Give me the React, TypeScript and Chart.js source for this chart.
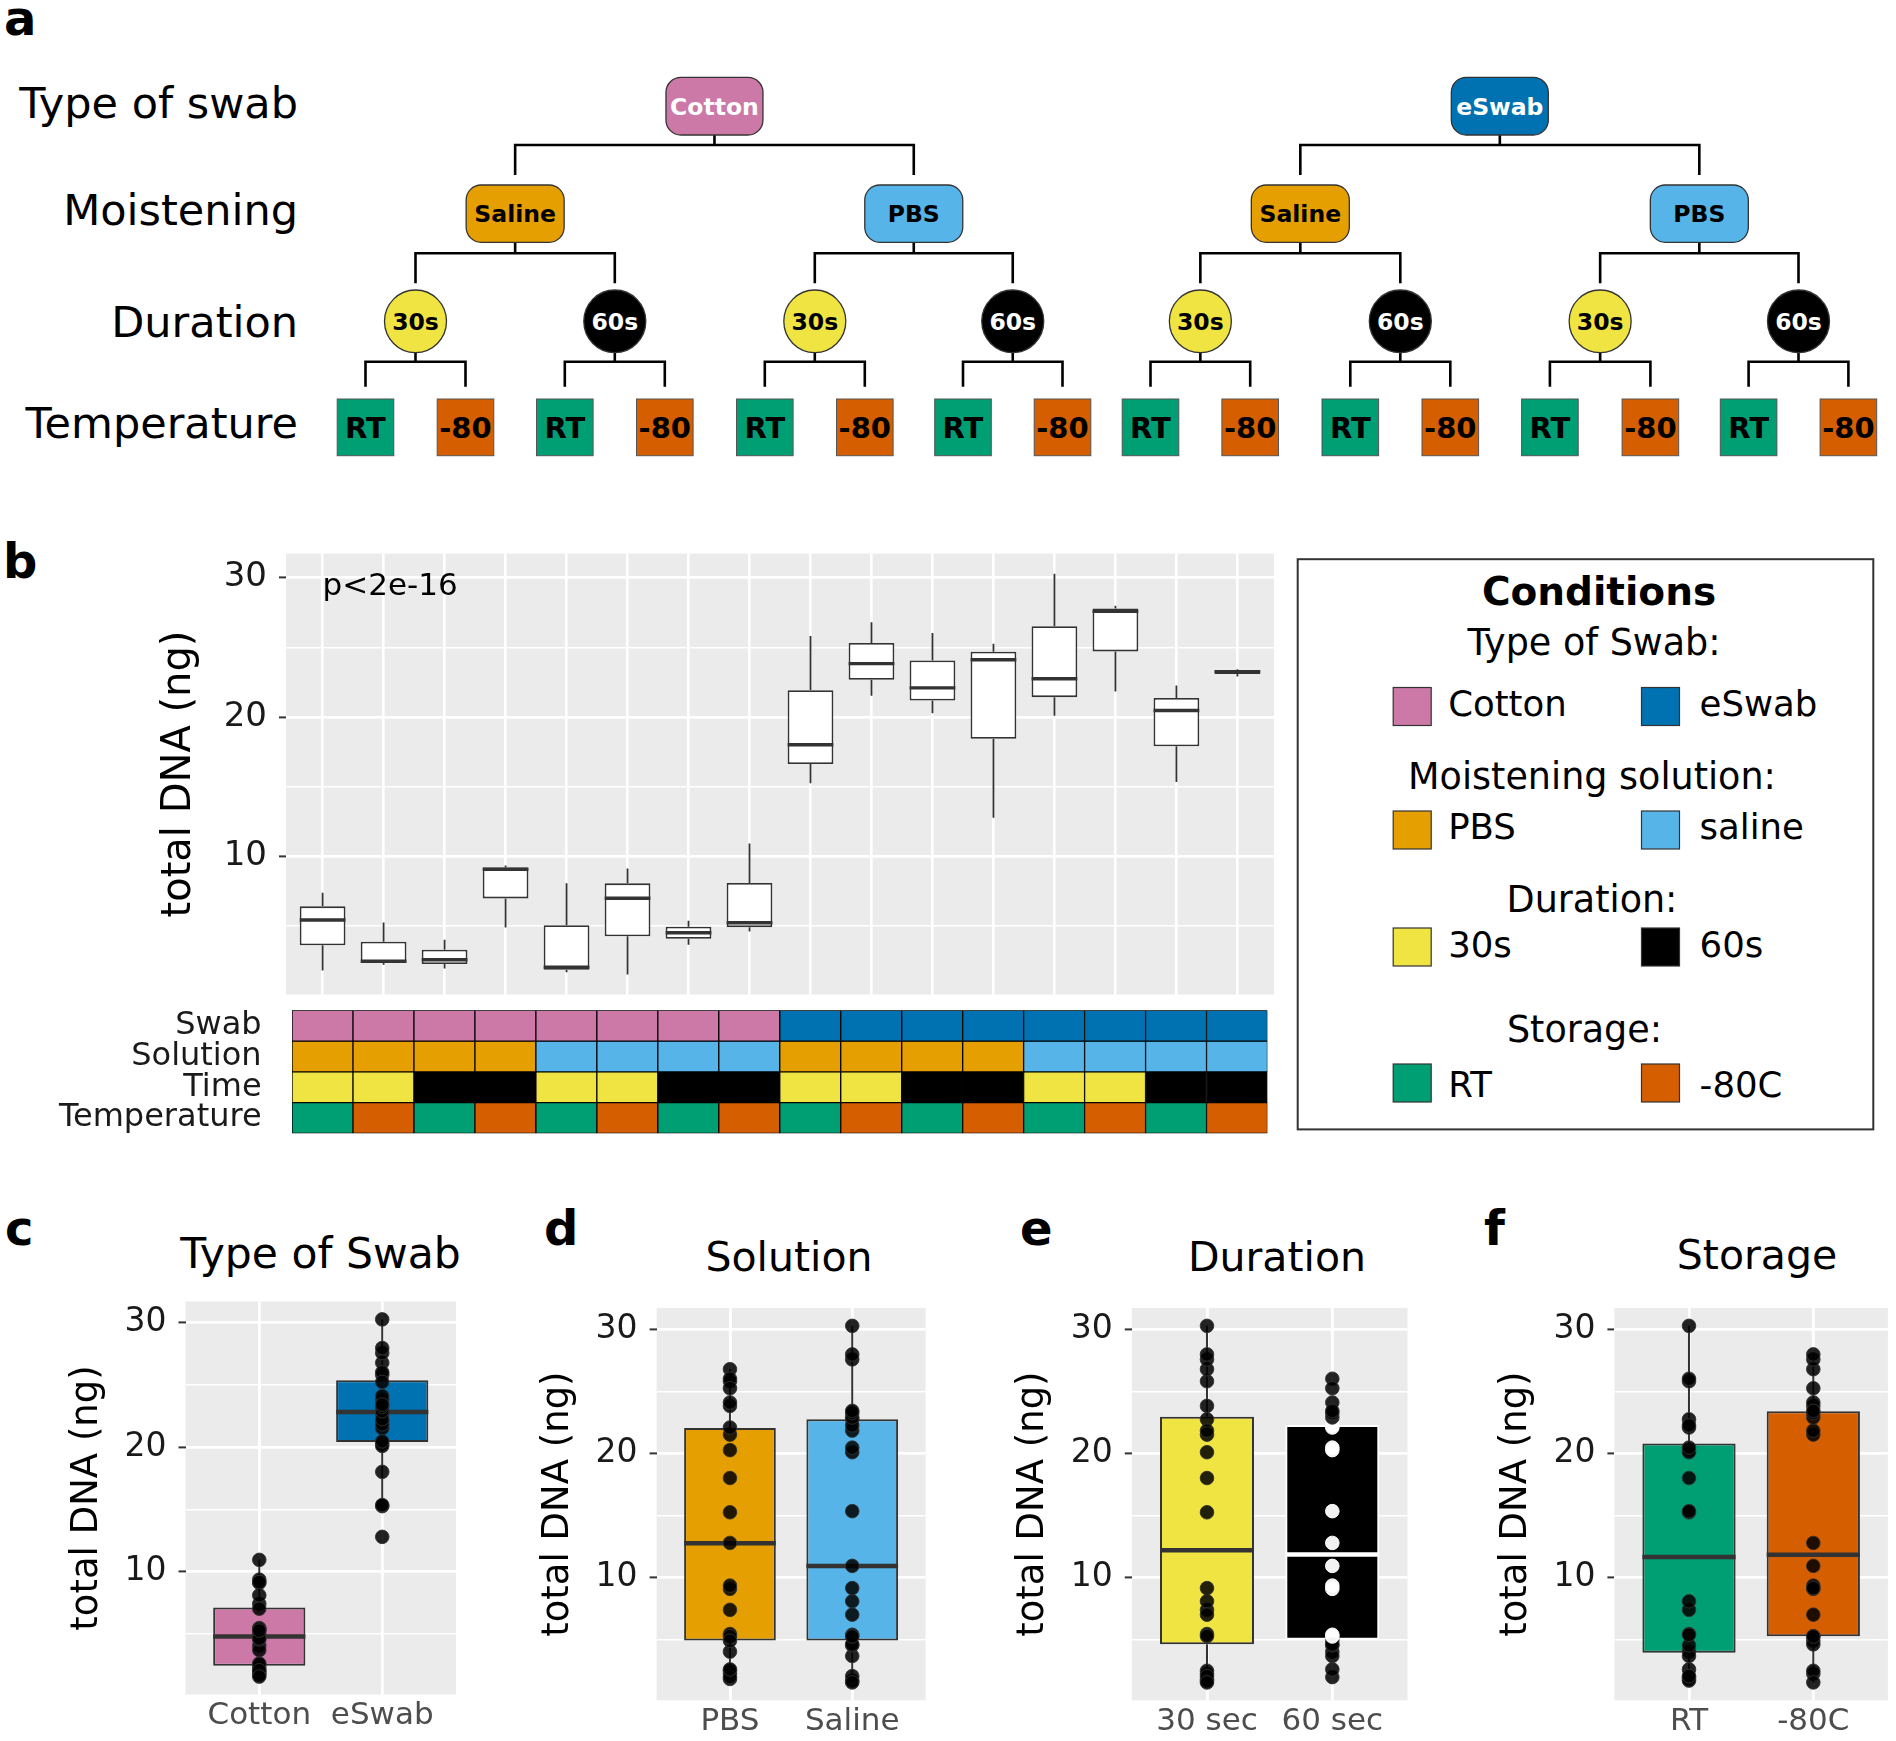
import React, { useEffect, useRef } from 'react';
import { Chart, registerables } from 'chart.js';

Chart.register(...registerables);

const FONT = "'DejaVu Sans', Verdana, sans-serif";
Chart.defaults.font.family = FONT;

// ------------------------------------------------------------------ data
const conditionIds = [1, 2, 3, 4, 5, 6, 7, 8, 9, 10, 11, 12, 13, 14, 15, 16];
const swabType = ['Cotton', 'Cotton', 'Cotton', 'Cotton', 'Cotton', 'Cotton', 'Cotton', 'Cotton', 'eSwab', 'eSwab', 'eSwab', 'eSwab', 'eSwab', 'eSwab', 'eSwab', 'eSwab'];
const solutionType = ['PBS', 'PBS', 'PBS', 'PBS', 'saline', 'saline', 'saline', 'saline', 'PBS', 'PBS', 'PBS', 'PBS', 'saline', 'saline', 'saline', 'saline'];
const durationType = ['30s', '30s', '60s', '60s', '30s', '30s', '60s', '60s', '30s', '30s', '60s', '60s', '30s', '30s', '60s', '60s'];
const storageType = ['RT', '-80C', 'RT', '-80C', 'RT', '-80C', 'RT', '-80C', 'RT', '-80C', 'RT', '-80C', 'RT', '-80C', 'RT', '-80C'];

// three replicate measurements per condition (total DNA, ng)
const replicateLow = [1.83, 2.25, 1.98, 4.91, 1.70, 1.55, 3.68, 4.62, 15.26, 21.52, 20.27, 12.79, 20.10, 21.84, 15.35, 22.90];
const replicateMid = [5.45, 2.49, 2.60, 9.09, 2.06, 7.01, 4.54, 5.25, 18.02, 23.83, 22.09, 24.11, 22.75, 27.58, 20.47, 23.26];
const replicateHigh = [7.40, 5.28, 4.03, 9.35, 8.09, 9.15, 5.39, 10.94, 25.82, 26.79, 26.02, 25.25, 30.28, 27.98, 22.26, 23.43];
// panel b box hinges
const conditionQ1 = [3.64, 2.37, 2.29, 7.00, 1.88, 4.28, 4.11, 4.94, 16.64, 22.68, 21.18, 18.45, 21.43, 24.71, 17.91, 23.08];
const conditionQ3 = [6.43, 3.89, 3.32, 9.22, 5.08, 8.08, 4.97, 8.10, 21.92, 25.31, 24.06, 24.68, 26.52, 27.78, 21.37, 23.35];

// panel c-f box statistics
const swabLevels = ['Cotton', 'eSwab'];
const swabTickLabels = ['Cotton', 'eSwab'];
const swabLower = [1.55, 15.26];
const swabQ1 = [2.43, 20.42];
const swabMedian = [4.77, 22.83];
const swabQ3 = [7.11, 25.39];
const swabUpper = [10.94, 30.28];

const solutionLevels = ['PBS', 'saline'];
const solutionTickLabels = ['PBS', 'Saline'];
const solutionLower = [1.83, 1.55];
const solutionQ1 = [4.92, 4.92];
const solutionMedian = [12.76, 10.93];
const solutionQ3 = [22.05, 22.76];
const solutionUpper = [26.79, 30.28];

const durationLevels = ['30s', '60s'];
const durationTickLabels = ['30 sec', '60 sec'];
const durationLower = [1.55, 1.98];
const durationQ1 = [4.62, 4.98];
const durationMedian = [12.2, 11.86];
const durationQ3 = [22.95, 22.3];
const durationUpper = [30.28, 26.02];

const storageLevels = ['RT', '-80C'];
const storageTickLabels = ['RT', '-80C'];
const storageLower = [1.70, 1.55];
const storageQ1 = [3.94, 5.27];
const storageMedian = [11.66, 11.84];
const storageQ3 = [20.8, 23.4];
const storageUpper = [30.28, 27.98];

const yAxisMin = 0.11;
const yAxisMax = 31.72;
const yGridValues = [5, 10, 15, 20, 25, 30];
const yLabelValues = [10, 20, 30];

const heatRowLabels = ['Swab', 'Solution', 'Time', 'Temperature'];

// colours
const swabColor: Record<string, string> = { Cotton: '#CC79A7', eSwab: '#0072B2' };
const solutionColor: Record<string, string> = { PBS: '#E69F00', saline: '#56B4E9' };
const durationColor: Record<string, string> = { '30s': '#F0E442', '60s': '#000000' };
const storageColor: Record<string, string> = { RT: '#009E73', '-80C': '#D55E00' };

// panel a tree
const treeRowLabels = ['Type of swab', 'Moistening', 'Duration', 'Temperature'];
const treeSwab = ['Cotton', 'eSwab'];
const treeMoist = ['Saline', 'PBS', 'Saline', 'PBS'];
const treeDuration = ['30s', '60s', '30s', '60s', '30s', '60s', '30s', '60s'];
const treeTemp = ['RT', '-80', 'RT', '-80', 'RT', '-80', 'RT', '-80', 'RT', '-80', 'RT', '-80', 'RT', '-80', 'RT', '-80'];

// ------------------------------------------------------------------ helpers
type Geo = { L: number; T: number; R: number; B: number; axisW: number; padTop: number; padRight: number; padBottom: number; xAxisH: number };
function frame(g: Geo) {
  const left = Math.round(g.L - g.axisW);
  const top = Math.round(g.T - g.padTop);
  const width = Math.ceil(g.R - left + g.padRight);
  const height = Math.ceil(g.B - top + g.xAxisH + g.padBottom);
  return {
    left, top, width, height,
    yW: g.L - left,
    pTop: g.T - top,
    pRight: width - (g.R - left),
    pBottom: height - (g.B - top) - g.xAxisH,
    xH: g.xAxisH,
  };
}

const panelBackground = {
  id: 'panelBackground',
  beforeDraw(chart: any) {
    const { ctx, chartArea: a } = chart;
    ctx.save();
    ctx.fillStyle = '#EBEBEB';
    ctx.fillRect(a.left, a.top, a.right - a.left, a.bottom - a.top);
    ctx.restore();
  },
};

type BoxSpec = {
  x: number[]; lower: number[]; q1: number[]; median: number[]; q3: number[]; upper: number[];
  edge: string[]; medianColor: string[]; width: number; whiskerW: number; medianW: number;
  note?: { text: string; x: number; y: number; size: number };
};

function boxDecor(s: BoxSpec) {
  return {
    id: 'boxDecor',
    beforeDatasetsDraw(chart: any) {
      const xs = chart.scales.x, ys = chart.scales.y, ctx = chart.ctx;
      ctx.save();
      ctx.lineWidth = s.whiskerW;
      s.x.forEach((xv, i) => {
        const px = xs.getPixelForValue(xv);
        ctx.strokeStyle = s.edge[i];
        ctx.beginPath();
        ctx.moveTo(px, ys.getPixelForValue(s.lower[i]));
        ctx.lineTo(px, ys.getPixelForValue(s.q1[i]));
        ctx.moveTo(px, ys.getPixelForValue(s.q3[i]));
        ctx.lineTo(px, ys.getPixelForValue(s.upper[i]));
        ctx.stroke();
      });
      ctx.restore();
    },
    afterDatasetDraw(chart: any, args: any) {
      if (args.index !== 0) return;
      const xs = chart.scales.x, ys = chart.scales.y, ctx = chart.ctx;
      ctx.save();
      ctx.lineWidth = s.medianW;
      s.x.forEach((xv, i) => {
        const x0 = xs.getPixelForValue(xv - s.width / 2);
        const x1 = xs.getPixelForValue(xv + s.width / 2);
        const py = ys.getPixelForValue(s.median[i]);
        ctx.strokeStyle = s.medianColor[i];
        ctx.beginPath();
        ctx.moveTo(x0, py);
        ctx.lineTo(x1, py);
        ctx.stroke();
      });
      ctx.restore();
    },
    afterDatasetsDraw(chart: any) {
      if (!s.note) return;
      const xs = chart.scales.x, ys = chart.scales.y, ctx = chart.ctx;
      ctx.save();
      ctx.fillStyle = '#000';
      ctx.font = `${s.note.size}px ${FONT}`;
      ctx.textAlign = 'left';
      ctx.textBaseline = 'middle';
      ctx.fillText(s.note.text, xs.getPixelForValue(s.note.x), ys.getPixelForValue(s.note.y));
      ctx.restore();
    },
  };
}

function yScale(yW: number, tickSize: number, titleSize: number, titlePad: number) {
  return {
    type: 'linear',
    min: yAxisMin,
    max: yAxisMax,
    bounds: 'data',
    afterBuildTicks: (sc: any) => { sc.ticks = yGridValues.map((v) => ({ value: v })); },
    afterFit: (sc: any) => { sc.width = yW; },
    ticks: {
      autoSkip: false,
      padding: 12,
      color: '#1a1a1a',
      font: { size: tickSize, family: FONT },
      callback: (v: any) => (yLabelValues.includes(Number(v)) ? String(v) : ''),
    },
    grid: {
      color: '#FFFFFF',
      lineWidth: (c: any) => (c.tick && yLabelValues.includes(c.tick.value) ? 2.8 : 1.6),
      tickColor: (c: any) => (c.tick && yLabelValues.includes(c.tick.value) ? '#333333' : 'rgba(0,0,0,0)'),
      tickLength: 7,
      tickWidth: 2,
    },
    border: { display: false },
    title: {
      display: true,
      text: 'total DNA (ng)',
      color: '#000',
      font: { size: titleSize, family: FONT },
      padding: { top: titlePad, bottom: 0 },
    },
  };
}

// ------------------------------------------------------------------ chart configs
const geoB: Geo = { L: 286, T: 553.6, R: 1274, B: 994.5, axisW: 140, padTop: 40, padRight: 10, padBottom: 40, xAxisH: 0 };
const frameB = frame(geoB);

function configB() {
  const f = frameB;
  const titleSize = 40;
  const titlePad = 180 - f.left - (titleSize * 1.2) / 2;
  return {
    type: 'bar',
    data: {
      datasets: [
        {
          type: 'bar',
          data: conditionIds.map((id, i) => ({ x: id, y: [conditionQ1[i], conditionQ3[i]] })),
          backgroundColor: '#FFFFFF',
          borderColor: '#333333',
          borderWidth: 1.8,
          borderSkipped: false,
          barPercentage: 0.75,
          categoryPercentage: 1,
        },
      ],
    },
    options: {
      animation: false,
      responsive: false,
      maintainAspectRatio: false,
      layout: { padding: { left: 0, top: f.pTop, right: f.pRight, bottom: f.pBottom } },
      plugins: { legend: { display: false }, tooltip: { enabled: false } },
      scales: {
        x: {
          type: 'linear',
          offset: false,
          min: 0.4,
          max: 16.6,
          bounds: 'data',
          afterBuildTicks: (sc: any) => { sc.ticks = conditionIds.map((v) => ({ value: v })); },
          afterFit: (sc: any) => { sc.height = f.xH; },
          ticks: { display: false },
          grid: { color: '#FFFFFF', lineWidth: 2.6, drawTicks: false, offset: false },
          border: { display: false },
        },
        y: yScale(f.yW, 34, titleSize, titlePad),
      },
    },
    plugins: [
      panelBackground,
      boxDecor({
        x: conditionIds,
        lower: replicateLow,
        q1: conditionQ1,
        median: replicateMid,
        q3: conditionQ3,
        upper: replicateHigh,
        edge: conditionIds.map(() => '#333333'),
        medianColor: conditionIds.map(() => '#333333'),
        width: 0.75,
        whiskerW: 1.8,
        medianW: 3.4,
        note: { text: 'p<2e-16', x: 1, y: 29.3, size: 31 },
      }),
    ],
  };
}

const geoHeat: Geo = { L: 292, T: 1010.3, R: 1267.5, B: 1133.4, axisW: 292, padTop: 50, padRight: 6, padBottom: 50, xAxisH: 0 };
const frameHeat = frame(geoHeat);

function configHeat() {
  const f = frameHeat;
  const rows = [
    { values: swabType, colors: swabColor },
    { values: solutionType, colors: solutionColor },
    { values: durationType, colors: durationColor },
    { values: storageType, colors: storageColor },
  ];
  return {
    type: 'bar',
    data: {
      datasets: rows.map((row, r) => ({
        type: 'bar',
        data: conditionIds.map((id) => ({ x: id, y: [r, r + 1] })),
        backgroundColor: row.values.map((v) => row.colors[v]),
        borderColor: '#000000',
        borderWidth: 1,
        borderSkipped: false,
        barPercentage: 1,
        categoryPercentage: 1,
        grouped: false,
      })),
    },
    options: {
      animation: false,
      responsive: false,
      maintainAspectRatio: false,
      layout: { padding: { left: 0, top: f.pTop, right: f.pRight, bottom: f.pBottom } },
      plugins: { legend: { display: false }, tooltip: { enabled: false } },
      scales: {
        x: {
          type: 'linear',
          display: false,
          offset: false,
          min: 0.5,
          max: 16.5,
          bounds: 'data',
          grid: { offset: false },
          afterBuildTicks: (sc: any) => { sc.ticks = conditionIds.map((v) => ({ value: v })); },
        },
        y: {
          type: 'linear',
          min: 0,
          max: 4,
          reverse: true,
          bounds: 'data',
          afterBuildTicks: (sc: any) => { sc.ticks = heatRowLabels.map((_, i) => ({ value: i + 0.5 })); },
          afterFit: (sc: any) => { sc.width = f.yW; },
          ticks: {
            autoSkip: false,
            padding: 292 - 261.6,
            color: '#1a1a1a',
            font: { size: 32, family: FONT },
            callback: (_v: any, i: number) => heatRowLabels[i],
          },
          grid: { display: false, drawTicks: false },
          border: { display: false },
        },
      },
    },
  };
}

type GroupSpec = {
  key: string;
  geo: Geo;
  factor: string[];
  levels: string[];
  tickLabels: string[];
  lower: number[]; q1: number[]; median: number[]; q3: number[]; upper: number[];
  fill: string[]; edge: string[]; medianColor: string[]; insideDot: (string | null)[];
};

const groupGeo = (L: number, R: number, T: number, B: number): Geo => ({ L, T, R, B, axisW: 130, padTop: 40, padRight: 8, padBottom: 0, xAxisH: 50 });

const groupSpecs: GroupSpec[] = [
  {
    key: 'c', geo: groupGeo(185.5, 456, 1301.5, 1694.5), factor: swabType, levels: swabLevels, tickLabels: swabTickLabels,
    lower: swabLower, q1: swabQ1, median: swabMedian, q3: swabQ3, upper: swabUpper,
    fill: swabLevels.map((l) => swabColor[l]), edge: ['#333333', '#333333'], medianColor: ['#333333', '#333333'], insideDot: [null, null],
  },
  {
    key: 'd', geo: groupGeo(656.6, 925.6, 1308, 1700.3), factor: solutionType, levels: solutionLevels, tickLabels: solutionTickLabels,
    lower: solutionLower, q1: solutionQ1, median: solutionMedian, q3: solutionQ3, upper: solutionUpper,
    fill: solutionLevels.map((l) => solutionColor[l]), edge: ['#333333', '#333333'], medianColor: ['#333333', '#333333'], insideDot: [null, null],
  },
  {
    key: 'e', geo: groupGeo(1131.8, 1407.5, 1308, 1700.3), factor: durationType, levels: durationLevels, tickLabels: durationTickLabels,
    lower: durationLower, q1: durationQ1, median: durationMedian, q3: durationQ3, upper: durationUpper,
    fill: durationLevels.map((l) => durationColor[l]), edge: ['#333333', '#FFFFFF'], medianColor: ['#333333', '#FFFFFF'], insideDot: [null, '#FFFFFF'],
  },
  {
    key: 'f', geo: groupGeo(1614.4, 1887.9, 1308, 1700.3), factor: storageType, levels: storageLevels, tickLabels: storageTickLabels,
    lower: storageLower, q1: storageQ1, median: storageMedian, q3: storageQ3, upper: storageUpper,
    fill: storageLevels.map((l) => storageColor[l]), edge: ['#333333', '#333333'], medianColor: ['#333333', '#333333'], insideDot: [null, null],
  },
];

function configGroup(spec: GroupSpec) {
  const f = frame(spec.geo);
  const titleSize = 37;
  const titlePad = spec.geo.L - 98.5 - f.left - (titleSize * 1.2) / 2;
  const points: { x: number; y: number }[] = [];
  const dotFill: string[] = [];
  const dotEdge: string[] = [];
  spec.levels.forEach((lvl, li) => {
    conditionIds.forEach((_, ci) => {
      if (spec.factor[ci] !== lvl) return;
      [replicateLow[ci], replicateMid[ci], replicateHigh[ci]].forEach((v) => {
        points.push({ x: li + 1, y: v });
        const inside = spec.insideDot[li] && v > spec.q1[li] && v < spec.q3[li];
        dotFill.push(inside ? 'rgba(255,255,255,0.95)' : 'rgba(0,0,0,0.86)');
        dotEdge.push(inside ? 'rgba(255,255,255,0.95)' : 'rgba(50,50,50,0.9)');
      });
    });
  });
  const xs = spec.levels.map((_, i) => i + 1);
  return {
    type: 'bar',
    data: {
      datasets: [
        {
          type: 'bar',
          order: 1,
          data: xs.map((x, i) => ({ x, y: [spec.q1[i], spec.q3[i]] })),
          backgroundColor: spec.fill,
          borderColor: spec.edge,
          borderWidth: 2,
          borderSkipped: false,
          barPercentage: 0.75,
          categoryPercentage: 1,
        },
        {
          type: 'line',
          order: 0,
          showLine: false,
          data: points,
          pointRadius: 6.8,
          pointBackgroundColor: dotFill,
          pointBorderColor: dotEdge,
          pointBorderWidth: 1,
        },
      ],
    },
    options: {
      animation: false,
      responsive: false,
      maintainAspectRatio: false,
      layout: { padding: { left: 0, top: f.pTop, right: f.pRight, bottom: f.pBottom } },
      plugins: { legend: { display: false }, tooltip: { enabled: false } },
      scales: {
        x: {
          type: 'linear',
          offset: false,
          min: 0.4,
          max: 2.6,
          bounds: 'data',
          afterBuildTicks: (sc: any) => { sc.ticks = xs.map((v) => ({ value: v })); },
          afterFit: (sc: any) => { sc.height = f.xH; },
          ticks: {
            autoSkip: false,
            maxRotation: 0,
            padding: 3,
            color: '#4D4D4D',
            font: { size: 31, family: FONT },
            callback: (v: any) => spec.tickLabels[Math.round(Number(v)) - 1] ?? '',
          },
          grid: { color: '#FFFFFF', lineWidth: 2.8, drawTicks: false, offset: false },
          border: { display: false },
        },
        y: yScale(f.yW, 33, titleSize, titlePad),
      },
    },
    plugins: [
      panelBackground,
      boxDecor({
        x: xs, lower: spec.lower, q1: spec.q1, median: spec.median, q3: spec.q3, upper: spec.upper,
        edge: spec.edge, medianColor: spec.medianColor, width: 0.75, whiskerW: 2, medianW: 4.5,
      }),
    ],
  };
}

// ------------------------------------------------------------------ components
function ChartCanvas({ left, top, width, height, make }: { left: number; top: number; width: number; height: number; make: () => any }) {
  const ref = useRef<HTMLCanvasElement>(null);
  useEffect(() => {
    const chart = new Chart(ref.current as HTMLCanvasElement, make());
    return () => chart.destroy();
  }, []);
  return (
    <div style={{ position: 'absolute', left, top, width, height }}>
      <canvas ref={ref} width={width} height={height} style={{ width, height, display: 'block' }} />
    </div>
  );
}

const tempCenters = [365.5, 465.5, 564.8, 664.8, 764.8, 864.8, 963, 1062.5, 1150.5, 1250.2, 1350.3, 1450.3, 1549.9, 1650.4, 1748.6, 1848.4];
const mids = (arr: number[]) => arr.filter((_, i) => i % 2 === 0).map((v, i) => (v + arr[2 * i + 1]) / 2);

function Bracket({ cx, left, right, y0, y1, y2 }: { cx: number; left: number; right: number; y0: number; y1: number; y2: number }) {
  return (
    <path d={`M${cx},${y0} L${cx},${y1} M${left},${y2} L${left},${y1} L${right},${y1} L${right},${y2}`} stroke="#000" strokeWidth={2.6} fill="none" />
  );
}

function PanelA() {
  const durCenters = mids(tempCenters);
  const moistCenters = mids(durCenters);
  const swabCenters = mids(moistCenters);
  const labelY = [118, 225, 336.6, 438];
  return (
    <g>
      {treeRowLabels.map((t, i) => (
        <text key={t} x={298} y={labelY[i]} textAnchor="end" fontSize={43} fontFamily={FONT} fill="#000">{t}</text>
      ))}
      {swabCenters.map((c, i) => (
        <Bracket key={'b1' + i} cx={c} left={moistCenters[2 * i]} right={moistCenters[2 * i + 1]} y0={135} y1={145} y2={175} />
      ))}
      {moistCenters.map((c, i) => (
        <Bracket key={'b2' + i} cx={c} left={durCenters[2 * i]} right={durCenters[2 * i + 1]} y0={242} y1={253.3} y2={283.3} />
      ))}
      {durCenters.map((c, i) => (
        <Bracket key={'b3' + i} cx={c} left={tempCenters[2 * i]} right={tempCenters[2 * i + 1]} y0={352} y1={361.7} y2={386.7} />
      ))}
      {swabCenters.map((c, i) => (
        <g key={'s' + i}>
          <rect x={c - 48.5} y={77.3} width={97} height={57.7} rx={15} fill={swabColor[treeSwab[i]]} stroke="#333" strokeWidth={1.3} />
          <text x={c} y={114.6} textAnchor="middle" fontSize={23.5} fontWeight="bold" fontFamily={FONT} fill="#fff">{treeSwab[i]}</text>
        </g>
      ))}
      {moistCenters.map((c, i) => (
        <g key={'m' + i}>
          <rect x={c - 49} y={185} width={98} height={57.3} rx={15} fill={treeMoist[i] === 'Saline' ? '#E69F00' : '#56B4E9'} stroke="#333" strokeWidth={1.3} />
          <text x={c} y={222} textAnchor="middle" fontSize={23.5} fontWeight="bold" fontFamily={FONT} fill="#000">{treeMoist[i]}</text>
        </g>
      ))}
      {durCenters.map((c, i) => (
        <g key={'d' + i}>
          <ellipse cx={c} cy={321.3} rx={31} ry={31.3} fill={durationColor[treeDuration[i]]} stroke="#333" strokeWidth={1.3} />
          <text x={c} y={330} textAnchor="middle" fontSize={23.5} fontWeight="bold" fontFamily={FONT} fill={treeDuration[i] === '60s' ? '#fff' : '#000'}>{treeDuration[i]}</text>
        </g>
      ))}
      {tempCenters.map((c, i) => (
        <g key={'t' + i}>
          <rect x={c - 28.3} y={399} width={56.6} height={56.7} fill={treeTemp[i] === 'RT' ? '#009E73' : '#D55E00'} stroke="#555" strokeWidth={1} />
          <text x={c} y={438} textAnchor="middle" fontSize={29} fontWeight="bold" fontFamily={FONT} fill="#000">{treeTemp[i]}</text>
        </g>
      ))}
    </g>
  );
}

function Legend() {
  const lx = 1393.2, rx = 1641.5, sw = 38;
  const rows = [
    { head: 'Type of Swab:', hx: 1594, hy: 655, ry: 687.5, tb: 716, items: [['Cotton', swabColor.Cotton], ['eSwab', swabColor.eSwab]] },
    { head: 'Moistening solution:', hx: 1592, hy: 789, ry: 811, tb: 838.7, items: [['PBS', solutionColor.PBS], ['saline', solutionColor.saline]] },
    { head: 'Duration:', hx: 1592, hy: 911.5, ry: 928, tb: 956.7, items: [['30s', durationColor['30s']], ['60s', durationColor['60s']]] },
    { head: 'Storage:', hx: 1584.5, hy: 1041.7, ry: 1064, tb: 1097, items: [['RT', storageColor.RT], ['-80C', storageColor['-80C']]] },
  ];
  return (
    <g>
      <rect x={1297.7} y={559.2} width={575.6} height={570.2} fill="#fff" stroke="#333" strokeWidth={2} />
      <text x={1599} y={604.5} textAnchor="middle" fontSize={39} fontWeight="bold" fontFamily={FONT} fill="#000">Conditions</text>
      {rows.map((r) => (
        <g key={r.head}>
          <text x={r.hx} y={r.hy} textAnchor="middle" fontSize={36.5} fontFamily={FONT} fill="#000">{r.head}</text>
          <rect x={lx} y={r.ry} width={sw} height={sw} fill={r.items[0][1]} stroke="#333" strokeWidth={1.2} />
          <text x={1448.2} y={r.tb} fontSize={35.5} fontFamily={FONT} fill="#000">{r.items[0][0]}</text>
          <rect x={rx} y={r.ry} width={sw} height={sw} fill={r.items[1][1]} stroke="#333" strokeWidth={1.2} />
          <text x={1699.6} y={r.tb} fontSize={35.5} fontFamily={FONT} fill="#000">{r.items[1][0]}</text>
        </g>
      ))}
    </g>
  );
}

const panelTitles = [
  { text: 'Type of Swab', x: 320.5, y: 1268, size: 42.5 },
  { text: 'Solution', x: 789, y: 1271, size: 41 },
  { text: 'Duration', x: 1277, y: 1271, size: 41 },
  { text: 'Storage', x: 1757, y: 1269, size: 41 },
];
const panelLetters = [
  { t: 'a', x: 4, y: 35 },
  { t: 'b', x: 3, y: 578 },
  { t: 'c', x: 5, y: 1245 },
  { t: 'd', x: 544, y: 1245 },
  { t: 'e', x: 1020, y: 1245 },
  { t: 'f', x: 1484, y: 1245 },
];

export default function App() {
  useEffect(() => {
    document.body.style.margin = '0';
  }, []);
  return (
    <div style={{ position: 'absolute', left: 0, top: 0, width: 1896, height: 1741, background: '#fff', overflow: 'hidden' }}>
      <svg width={1896} height={1741} style={{ position: 'absolute', left: 0, top: 0 }}>
        <PanelA />
        <Legend />
        {panelLetters.map((l) => (
          <text key={l.t} x={l.x} y={l.y} fontSize={48} fontWeight="bold" fontFamily={FONT} fill="#000">{l.t}</text>
        ))}
        {panelTitles.map((t) => (
          <text key={t.text} x={t.x} y={t.y} textAnchor="middle" fontSize={t.size} fontFamily={FONT} fill="#000">{t.text}</text>
        ))}
      </svg>
      <ChartCanvas left={frameB.left} top={frameB.top} width={frameB.width} height={frameB.height} make={configB} />
      <ChartCanvas left={frameHeat.left} top={frameHeat.top} width={frameHeat.width} height={frameHeat.height} make={configHeat} />
      {groupSpecs.map((s) => {
        const f = frame(s.geo);
        return <ChartCanvas key={s.key} left={f.left} top={f.top} width={f.width} height={f.height} make={() => configGroup(s)} />;
      })}
    </div>
  );
}
